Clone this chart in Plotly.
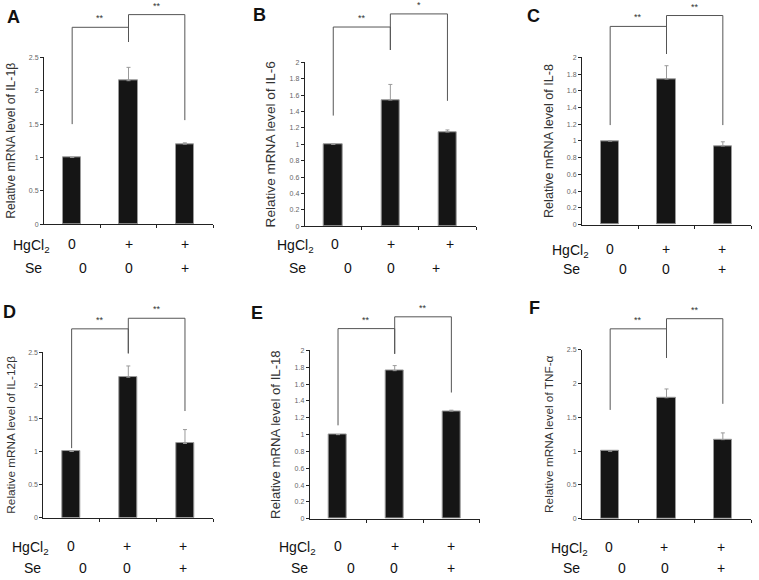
import plotly.graph_objects as go

W, H = 759, 580

# ---------------- data ----------------
hgcl2_labels = ["0", "+", "+"]
se_labels = ["0", "0", "+"]
panel_letters = ["A", "B", "C", "D", "E", "F"]
genes = ["IL-1β", "IL-6", "IL-8", "IL-12β", "IL-18", "TNF-α"]

il1b_mean = [1.00, 2.15, 1.20]
il1b_err = [0.0, 0.20, 0.02]
il6_mean = [1.00, 1.54, 1.15]
il6_err = [0.0, 0.19, 0.025]
il8_mean = [1.00, 1.74, 0.94]
il8_err = [0.0, 0.16, 0.05]
il12b_mean = [1.00, 2.12, 1.12]
il12b_err = [0.0, 0.17, 0.21]
il18_mean = [1.00, 1.76, 1.28]
il18_err = [0.0, 0.06, 0.01]
tnfa_mean = [1.00, 1.79, 1.17]
tnfa_err = [0.0, 0.13, 0.10]

sig_left = ["**", "**", "**", "**", "**", "**"]
sig_right = ["**", "*", "**", "**", "**", "**"]

means = [il1b_mean, il6_mean, il8_mean, il12b_mean, il18_mean, tnfa_mean]
errs = [il1b_err, il6_err, il8_err, il12b_err, il18_err, tnfa_err]
y_max = [2.5, 2.0, 2.0, 2.5, 2.0, 2.5]
y_dtick = [0.5, 0.2, 0.2, 0.5, 0.2, 0.5]

# significance bracket heights (data units): left foot, left bar, middle foot, right bar, right foot
brackets = [
    [1.50, 2.95, 2.73, 3.14, 1.56],
    [1.35, 2.43, 2.15, 2.59, 1.53],
    [1.19, 2.37, 2.04, 2.50, 1.19],
    [1.05, 2.85, 2.48, 3.01, 1.61],
    [1.11, 2.26, 1.96, 2.40, 1.50],
    [1.61, 2.81, 2.38, 2.96, 1.70],
]

# ---------------- layout geometry (pixels) ----------------
geo = [
    dict(x0=44.0, x1=213.0, yz=223.0, yt=54.0, ptop=0, letter=(13, 13), title_fs=12.2,
         row1=243.0, row2=267.0, hx=[0, 1, 2], sx=[0.2, 1, 2], hl=-0.72, sl=-0.69),
    dict(x0=304.7, x1=476.0, yz=225.0, yt=59.0, ptop=0, letter=(259, 11), title_fs=13.6,
         row1=243.0, row2=267.0, hx=[0.03, 1.01, 2.05], sx=[0.26, 1.01, 1.8], hl=-0.66, sl=-0.63),
    dict(x0=582.0, x1=751.0, yz=223.3, yt=54.0, ptop=0, letter=(533.5, 12.5), title_fs=12.6,
         row1=248.3, row2=268.3, hx=[0, 0.99, 1.985], sx=[0.22, 0.99, 1.985], hl=-0.71, sl=-0.68),
    dict(x0=43.3, x1=213.3, yz=520.0, yt=352.3, ptop=290, letter=(9.5, 311.5), title_fs=11.8,
         row1=548.3, row2=571.0, hx=[-0.02, 0.97, 1.97], sx=[0.195, 0.97, 1.97], hl=-0.72, sl=-0.685),
    dict(x0=309.7, x1=479.7, yz=521.0, yt=350.7, ptop=290, letter=(257, 312.5), title_fs=13.2,
         row1=548.3, row2=571.0, hx=[0, 1, 2], sx=[0.22, 0.99, 2], hl=-0.72, sl=-0.68),
    dict(x0=582.0, x1=751.0, yz=521.0, yt=350.0, ptop=290, letter=(534, 308), title_fs=11.8,
         row1=549.3, row2=571.0, hx=[-0.015, 0.96, 1.97], sx=[0.21, 0.98, 1.97], hl=-0.72, sl=-0.68),
]

FONT = "Liberation Sans, Arial, sans-serif"
BAR_FILL = "#151515"
BAR_LINE = "#9a9a9a"
ERR_COLOR = "#9a9a9a"
BRACKET_COLOR = "#555555"

fig = go.Figure()
layout = dict(
    width=W, height=H, autosize=False,
    margin=dict(l=0, r=0, t=0, b=0, pad=0),
    paper_bgcolor="white", plot_bgcolor="rgba(0,0,0,0)",
    showlegend=False, bargap=0.0,
    font=dict(family=FONT, color="#222"),
)
annotations = []


def px_x(p):
    return p / W


def px_y(p):
    return 1 - p / H


for i in range(6):
    g = geo[i]
    n = i + 1
    xa = f"x{n}" if n > 1 else "x"
    ya = f"y{n}" if n > 1 else "y"
    yb_n = n + 6
    yb = f"y{yb_n}"
    ymax = y_max[i]
    cat_w = (g["x1"] - g["x0"]) / 3.0

    def cat_px(d, g=g, cat_w=cat_w):
        return g["x0"] + (d + 0.5) * cat_w

    xdom = [px_x(g["x0"]), px_x(g["x1"])]
    ydom = [px_y(g["yz"]), px_y(g["yt"])]
    ybdom = [px_y(g["yz"]), px_y(g["ptop"])]
    scale = (g["yz"] - g["yt"]) / ymax
    yb_top = (g["yz"] - g["ptop"]) / scale

    layout["xaxis" + (str(n) if n > 1 else "")] = dict(
        domain=xdom, anchor=ya, range=[-0.5, 2.5], showgrid=False, zeroline=False,
        showline=True, linecolor="#222", linewidth=1,
        tickmode="array", tickvals=[0.5, 1.5, 2.5], ticks="outside", ticklen=3,
        tickcolor="#222", showticklabels=False, fixedrange=True,
    )
    layout["yaxis" + (str(n) if n > 1 else "")] = dict(
        domain=ydom, anchor=xa, range=[0, ymax], showgrid=False, zeroline=False,
        showline=True, linecolor="#222", linewidth=1,
        tick0=0, dtick=y_dtick[i], ticks="outside", ticklen=3, tickcolor="#222",
        tickfont=dict(size=7, color="#666", family=FONT),
        title=dict(text=f"Relative mRNA level of {genes[i]}",
                   font=dict(size=g["title_fs"], color="#333", family=FONT), standoff=10),
        fixedrange=True,
    )
    layout[f"yaxis{yb_n}"] = dict(
        domain=ybdom, anchor=xa, range=[0, yb_top], visible=False, fixedrange=True,
        showticklabels=False,
    )

    fig.add_trace(go.Bar(
        x=[0, 1, 2], y=means[i], xaxis=xa, yaxis=ya, width=0.32,
        marker=dict(color=BAR_FILL, line=dict(color=BAR_LINE, width=1)),
        error_y=dict(type="data", symmetric=False, array=errs[i], arrayminus=[0, 0, 0],
                     color=ERR_COLOR, thickness=1, width=2),
        hoverinfo="skip",
    ))

    fL, hL, fM, hR, fR = brackets[i]
    fig.add_trace(go.Scatter(
        x=[0, 0, 1, 1, None, 1, 1, 2, 2],
        y=[fL, hL, hL, fM, None, fM, hR, hR, fR],
        xaxis=xa, yaxis=yb, mode="lines", cliponaxis=False,
        line=dict(color=BRACKET_COLOR, width=1), hoverinfo="skip",
    ))
    annotations.append(dict(text=sig_left[i], x=0.5, y=hL, xref=xa, yref=yb,
                            xanchor="center", yanchor="bottom", yshift=2, showarrow=False,
                            font=dict(size=9, color="#333", family=FONT)))
    annotations.append(dict(text=sig_right[i], x=1.5, y=hR, xref=xa, yref=yb,
                            xanchor="center", yanchor="bottom", yshift=2, showarrow=False,
                            font=dict(size=9, color="#333", family=FONT)))

    # panel letter
    lx, ly = g["letter"]
    annotations.append(dict(text=f"<b>{panel_letters[i]}</b>", x=px_x(lx), y=px_y(ly),
                            xref="paper", yref="paper", xanchor="center", yanchor="middle",
                            showarrow=False, font=dict(size=18, color="#111", family=FONT)))

    # treatment rows
    annotations.append(dict(text="HgCl<sub>2</sub>", x=px_x(cat_px(g["hl"])), y=px_y(g["row1"] + 2),
                            xref="paper", yref="paper", xanchor="center", yanchor="middle",
                            showarrow=False, font=dict(size=14, color="#111", family=FONT)))
    annotations.append(dict(text="Se", x=px_x(cat_px(g["sl"])), y=px_y(g["row2"]),
                            xref="paper", yref="paper", xanchor="center", yanchor="middle",
                            showarrow=False, font=dict(size=14, color="#111", family=FONT)))
    for k in range(3):
        annotations.append(dict(text=hgcl2_labels[k], x=px_x(cat_px(g["hx"][k])), y=px_y(g["row1"]),
                                xref="paper", yref="paper", xanchor="center", yanchor="middle",
                                showarrow=False, font=dict(size=14, color="#111", family=FONT)))
        annotations.append(dict(text=se_labels[k], x=px_x(cat_px(g["sx"][k])), y=px_y(g["row2"]),
                                xref="paper", yref="paper", xanchor="center", yanchor="middle",
                                showarrow=False, font=dict(size=14, color="#111", family=FONT)))

layout["annotations"] = annotations
fig.update_layout(**layout)
fig.write_html("out.html", config={"displayModeBar": False},
               post_script="document.body.style.margin='0';document.body.style.padding='0';")
